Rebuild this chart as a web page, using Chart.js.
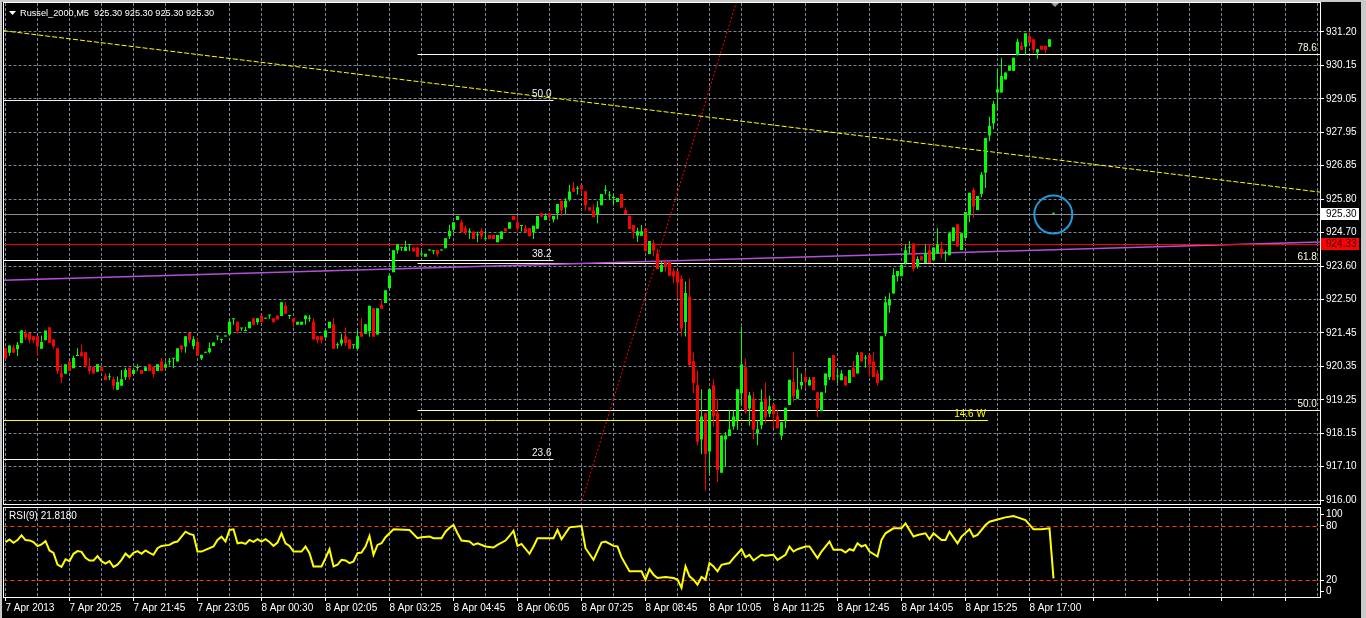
<!DOCTYPE html>
<html>
<head>
<meta charset="utf-8">
<title>Russel_2000,M5</title>
<script src="https://cdn.jsdelivr.net/npm/chart.js@4.4.1/dist/chart.umd.min.js"></script>
<style>
  html, body { margin: 0; padding: 0; background: #000; }
  body { width: 1366px; height: 618px; position: relative; overflow: hidden; }
  canvas { position: absolute; left: 0; }
  #priceChart { top: 0; width: 1366px; height: 506px; }
  #rsiChart { top: 505px; width: 1366px; height: 113px; }
  .edge { position: absolute; background: #c8c8c8; }
</style>
</head>
<body>
<canvas id="priceChart" width="1366" height="506"></canvas>
<canvas id="rsiChart" width="1366" height="113"></canvas>
<div class="edge" style="left:0;top:0;width:2px;height:618px"></div>
<div class="edge" style="left:0;top:0;width:1366px;height:2px"></div>
<div class="edge" style="left:1361px;top:0;width:5px;height:618px"></div>
<script>
// ═══════════════════════════════════════
//  RUSSEL_2000 M5 + RSI(9)
// ═══════════════════════════════════════

const symbolTitle = 'Russel_2000,M5  925.30 925.30 925.30 925.30';
const rsiTitle = 'RSI(9) 21.8180';

// one row per M5 bar : open, high, low, close
const ohlc = [
  [920.93,920.95,920.58,920.60],[920.78,921.03,920.69,921.02],[920.95,921.04,920.78,920.78],[920.90,921.13,920.68,921.04],[921.10,921.52,921.09,921.51],
  [921.42,921.52,921.20,921.28],[921.42,921.42,921.09,921.20],[921.32,921.32,921.09,921.19],[921.32,921.32,920.68,920.99],[920.91,921.34,920.91,921.13],
  [921.19,921.51,921.19,921.51],[921.61,921.61,921.10,921.10],[921.21,921.21,920.91,920.99],[920.93,920.93,920.09,920.19],[920.12,920.41,919.79,919.99],
  [920.10,920.41,920.10,920.41],[920.50,920.50,920.19,920.19],[920.28,920.69,920.28,920.61],[920.68,920.93,920.68,920.71],[920.80,921.04,920.67,920.67],
  [920.80,920.80,920.30,920.37],[920.32,920.61,920.09,920.19],[920.32,920.32,920.11,920.11],[920.17,920.41,920.17,920.41],[920.32,920.32,920.19,920.19],
  [920.02,920.12,919.90,919.90],[919.99,920.12,919.90,920.02],[919.92,920.01,919.58,919.71],[919.58,920.01,919.58,919.83],[919.71,920.22,919.71,919.92],
  [919.99,920.30,919.90,920.22],[920.30,920.30,919.90,919.99],[920.09,920.30,920.09,920.22],[920.29,920.41,920.19,920.31],[920.22,920.22,920.10,920.10],
  [920.19,920.31,920.19,920.31],[920.41,920.41,920.19,920.19],[920.32,920.32,919.99,920.09],[920.19,920.41,920.19,920.41],[920.50,920.61,920.19,920.19],
  [920.30,920.50,920.28,920.41],[920.49,920.61,920.37,920.51],[920.59,920.61,920.28,920.61],[920.50,920.93,920.50,920.93],[921.02,921.02,920.78,920.89],
  [920.99,921.32,920.78,921.32],[921.42,921.42,921.09,921.20],[921.00,921.32,920.90,921.22],[921.13,921.25,920.69,920.69],[920.60,920.72,920.55,920.72],
  [920.78,920.80,920.78,920.79],[920.80,921.12,920.76,920.93],[921.00,921.12,921.00,921.12],[921.31,921.33,921.19,921.32],[921.20,921.22,921.10,921.21],
  [921.31,921.33,921.31,921.32],[921.38,921.84,921.38,921.79],[921.87,921.89,921.69,921.88],[921.79,921.79,921.40,921.49],[921.57,921.59,921.49,921.58],
  [921.49,921.62,921.49,921.50],[921.58,921.79,921.58,921.79],[921.90,921.90,921.69,921.69],[921.77,921.90,921.69,921.90],[921.99,921.99,921.77,921.77],
  [921.89,921.91,921.89,921.90],[921.99,922.01,921.89,922.00],[921.90,921.90,921.77,921.77],[921.99,921.99,921.86,921.86],[921.98,922.42,921.98,922.42],
  [922.31,922.42,922.05,922.05],[921.98,922.00,921.88,921.99],[921.90,921.90,921.60,921.77],[921.69,921.79,921.69,921.79],[921.69,921.79,921.69,921.79],
  [921.88,921.99,921.69,921.99],[921.89,922.01,921.79,921.90],[921.79,921.90,921.21,921.21],[921.32,921.32,921.08,921.19],[921.32,921.32,921.08,921.19],
  [921.28,921.51,921.28,921.51],[921.58,921.79,921.58,921.79],[921.71,921.90,920.91,920.91],[921.03,921.12,920.91,921.04],[921.08,921.40,921.00,921.21],
  [921.32,921.60,921.00,921.10],[921.21,921.21,920.91,920.91],[921.03,921.05,920.91,921.04],[920.91,921.51,920.91,921.32],[921.43,921.90,921.30,921.30],
  [921.40,921.71,921.40,921.71],[921.49,922.31,921.30,922.31],[922.23,922.23,921.30,921.30],[921.38,922.23,921.38,922.23],[922.34,922.51,922.21,922.21],
  [922.40,922.81,922.40,922.81],[922.88,923.31,922.88,923.29],[923.40,924.11,923.40,924.11],[924.11,924.31,924.01,924.31],[924.19,924.21,924.09,924.20],
  [924.09,924.42,924.09,924.22],[924.28,924.30,924.09,924.29],[924.20,924.20,924.07,924.07],[924.20,924.20,923.90,923.90],[923.97,924.09,923.90,923.98],
  [923.90,924.00,923.90,924.00],[924.10,924.12,924.10,924.11],[924.08,924.10,923.98,924.09],[924.11,924.11,923.90,923.98],[924.10,924.12,924.10,924.11],
  [924.18,924.50,924.18,924.50],[924.57,924.94,924.48,924.74],[924.78,925.02,924.70,925.02],[925.09,925.22,925.09,925.22],[925.02,925.11,924.70,924.70],
  [924.83,924.91,924.61,924.70],[924.71,924.83,924.48,924.72],[924.72,924.72,924.48,924.48],[924.60,924.72,924.37,924.61],[924.74,924.83,924.48,924.57],
  [924.47,924.74,924.47,924.48],[924.61,924.61,924.48,924.48],[924.61,924.61,924.48,924.48],[924.37,924.61,924.37,924.61],[924.48,924.72,924.48,924.72],
  [924.83,924.83,924.72,924.72],[924.81,925.02,924.81,925.02],[925.22,925.22,925.09,925.09],[925.02,925.22,924.72,924.81],[924.90,924.92,924.72,924.91],
  [924.83,924.94,924.70,924.70],[924.83,924.83,924.57,924.57],[924.70,924.91,924.48,924.91],[924.81,925.22,924.81,925.22],[925.31,925.31,925.20,925.20],
  [925.09,925.31,925.09,925.22],[925.31,925.31,925.09,925.20],[925.11,925.22,925.02,925.22],[925.31,925.61,925.11,925.61],[925.72,925.72,925.22,925.41],
  [925.50,925.80,925.30,925.72],[925.76,926.24,925.70,926.02],[926.14,926.32,926.01,926.01],[926.11,926.20,925.92,926.12],[926.22,926.22,925.96,926.09],
  [926.03,926.03,925.40,925.57],[925.51,925.51,925.40,925.40],[925.40,925.60,925.18,925.18],[925.29,925.70,924.99,925.51],[925.57,925.94,925.57,925.94],
  [926.04,926.22,925.92,926.05],[925.89,926.03,925.75,925.90],[925.81,925.94,925.57,925.82],[925.68,925.81,925.68,925.81],[925.94,925.94,925.49,925.49],
  [925.42,925.51,925.29,925.29],[925.23,925.23,924.80,924.80],[924.93,924.93,924.49,924.71],[924.58,924.84,924.38,924.73],[924.58,924.93,924.58,924.73],
  [924.82,924.82,924.08,924.08],[923.99,924.41,923.99,924.41],[924.34,924.45,923.91,924.10],[924.01,924.16,923.50,923.50],[923.41,923.76,923.41,923.63],
  [923.73,923.82,923.41,923.58],[923.73,923.73,923.28,923.28],[923.43,923.52,923.04,923.26],[923.43,923.43,922.56,923.06],[923.19,923.30,921.31,921.57],
  [921.78,923.10,921.31,922.72],[922.61,923.19,920.38,920.38],[920.51,920.79,919.47,919.79],[919.73,920.21,917.78,917.89],[917.97,919.60,917.50,918.71],
  [918.82,918.82,916.31,917.50],[917.58,919.60,916.87,919.60],[919.73,919.92,918.38,918.71],[918.82,919.30,916.59,916.98],[916.89,918.10,916.89,918.10],
  [917.97,918.21,917.09,918.10],[918.08,918.91,918.08,918.30],[918.39,918.91,918.28,918.71],[918.60,919.60,918.28,919.60],[919.47,921.63,919.05,920.40],
  [920.31,920.59,918.80,918.88],[918.97,919.51,918.41,919.40],[919.30,919.51,917.97,918.28],[918.17,918.60,917.78,918.30],[918.43,919.60,918.30,919.19],
  [919.30,919.82,918.49,918.69],[918.80,919.39,918.70,919.05],[919.11,919.11,918.33,918.79],[918.72,918.92,918.33,918.33],[918.10,918.53,917.95,918.53],
  [918.59,919.00,918.33,919.00],[919.09,919.91,919.09,919.91],[919.83,920.80,919.20,919.37],[919.29,920.30,919.29,919.59],[919.72,920.11,919.59,919.83],
  [920.00,920.19,919.63,919.83],[919.72,920.00,919.72,919.91],[920.00,920.00,919.57,919.57],[919.50,919.50,918.70,918.98],[918.89,919.50,918.89,919.50],
  [919.72,920.11,919.48,920.11],[920.00,920.61,919.90,920.61],[920.71,920.71,919.89,919.89],[920.01,920.30,919.80,920.02],[919.89,920.22,919.89,920.11],
  [920.02,920.02,919.72,919.72],[919.80,920.22,919.80,920.22],[920.30,920.52,920.00,920.00],[920.11,920.80,920.11,920.71],[920.80,920.80,920.50,920.50],
  [920.60,920.71,920.30,920.61],[920.71,920.71,920.00,920.39],[920.50,920.80,920.00,920.00],[920.11,920.22,919.72,919.80],[919.89,921.32,919.89,921.32],
  [921.41,922.62,921.32,922.42],[922.32,922.72,922.08,922.53],[922.71,923.53,922.71,923.31],[923.27,923.44,923.10,923.44],[923.27,923.64,923.27,923.64],
  [923.70,924.31,923.64,924.11],[924.19,924.41,924.00,924.20],[924.33,924.33,923.42,923.51],[923.59,923.92,923.51,923.83],[923.92,923.92,923.79,923.79],
  [923.70,924.31,923.70,924.01],[924.11,924.31,923.70,923.70],[923.79,924.20,923.79,924.20],[924.01,924.83,924.01,924.31],[924.17,924.39,923.84,923.98],
  [924.02,924.10,923.75,924.03],[923.95,924.72,923.95,924.66],[924.40,924.86,924.40,924.85],[924.96,924.96,924.23,924.23],[924.12,924.66,924.12,924.66],
  [924.51,925.35,924.51,925.35],[925.25,925.98,925.03,925.98],[926.07,926.15,925.17,925.53],[925.42,925.87,925.42,925.87],[925.94,926.65,925.83,926.57],
  [926.63,927.76,926.13,927.76],[927.84,928.45,927.65,928.15],[928.23,928.97,928.04,928.86],[929.23,929.97,928.65,929.34],[929.23,930.36,929.23,929.77],
  [929.66,929.88,929.66,929.88],[929.94,930.10,929.94,930.10],[929.94,930.36,929.94,930.36],[930.44,930.98,930.44,930.88],[930.75,930.88,930.62,930.62],
  [930.72,931.16,930.46,931.16],[931.07,931.18,930.85,930.85],[930.96,930.96,930.53,930.62],[930.53,930.64,930.33,930.64],[930.75,930.75,930.62,930.62],
  [930.75,930.75,930.51,930.62],[930.72,930.96,930.72,930.96],[925.30,925.30,925.30,925.30]
];

// RSI(9) read at the bars where the line turns : [bar, value]
const rsiPoints = [
  [0,62.1],[1,65.1],[2,61.4],[3,64.4],[4,69.6],[5,64.4],[6,64.0],[7,62.1],[8,57.6],[9,59.5],[10,63.2],[11,52.8],[12,50.2],
  [13,37.1],[14,34.5],[15,43.1],[16,40.9],[17,49.1],[18,52.1],[19,51.3],[20,44.6],[21,41.6],[22,41.6],[23,46.5],[24,40.9],
  [25,38.3],[26,40.9],[27,34.5],[28,37.1],[29,42.4],[30,49.4],[31,45.3],[32,50.2],[33,52.1],[34,49.1],[35,52.8],[36,50.2],
  [37,48.0],[38,55.3],[39,57.9],[41,59.0],[42,61.6],[43,62.7],[44,68.2],[45,73.7],[46,71.2],[47,70.0],[48,51.6],[49,51.6],
  [50,53.5],[52,57.2],[53,64.5],[54,68.2],[55,62.7],[56,75.6],[57,76.3],[58,60.8],[59,61.6],[60,60.1],[61,64.5],[62,62.3],
  [63,65.3],[64,62.7],[65,65.3],[66,62.3],[67,57.9],[68,61.6],[69,71.9],[70,60.8],[71,57.9],[72,51.6],[74,51.6],[75,57.2],
  [76,49.8],[77,35.1],[79,35.1],[80,44.3],[81,54.2],[82,35.1],[83,36.9],[84,42.4],[85,41.7],[86,38.8],[87,40.6],[88,49.8],
  [89,50.5],[90,57.2],[91,68.9],[92,48.0],[93,59.0],[94,60.8],[95,67.5],[97,76.3],[101,75.6],[103,66.4],[104,67.5],[106,68.2],
  [107,66.4],[109,66.4],[110,73.7],[111,78.1],[112,81.1],[113,71.9],[114,63.8],[116,62.7],[117,59.0],[118,60.8],[120,57.2],
  [122,56.1],[123,59.0],[125,63.8],[126,68.9],[127,74.8],[128,57.9],[129,60.1],[131,49.1],[132,57.2],[133,66.4],[137,66.4],
  [138,75.6],[139,65.3],[141,78.5],[144,80.0],[145,55.3],[147,42.4],[149,61.6],[150,62.7],[152,57.9],[153,57.2],[154,45.4],
  [156,29.6],[159,29.6],[160,20.4],[161,32.1],[162,25.9],[163,22.2],[165,23.3],[167,22.2],[168,20.4],[169,11.2],[170,35.1],
  [171,24.0],[172,20.4],[173,14.8],[174,23.3],[175,20.4],[176,38.8],[177,35.1],[178,29.6],[179,36.9],[181,38.8],[182,44.3],
  [184,54.2],[185,45.4],[186,48.0],[187,41.7],[189,48.0],[190,46.9],[192,48.0],[193,42.4],[195,48.0],[196,57.2],[197,51.6],
  [198,54.2],[200,57.2],[201,57.2],[203,44.3],[204,51.6],[206,62.7],[207,53.5],[209,53.5],[210,50.5],[211,54.2],[212,52.8],
  [213,60.8],[214,57.2],[215,59.0],[216,51.6],[218,46.1],[219,64.5],[220,71.9],[222,77.4],[224,77.4],[225,82.9],[227,68.2],
  [228,70.0],[230,71.9],[231,65.3],[232,71.9],[234,64.5],[235,64.5],[236,73.7],[238,60.8],[239,68.2],[241,76.3],[242,68.2],
  [243,70.0],[245,81.1],[246,84.8],[248,87.3],[250,89.6],[252,91.0],[253,89.6],[255,86.6],[257,76.3],[259,76.3],[261,77.4],
  [262,21.8]
];

// time axis, one label every 16 bars
const timeLabels = ['7 Apr 2013','7 Apr 20:25','7 Apr 21:45','7 Apr 23:05','8 Apr 00:30','8 Apr 02:05','8 Apr 03:25',
  '8 Apr 04:45','8 Apr 06:05','8 Apr 07:25','8 Apr 08:45','8 Apr 10:05','8 Apr 11:25','8 Apr 12:45','8 Apr 14:05',
  '8 Apr 15:25','8 Apr 17:00'];

// price axis : 15 even steps from 931.20 down to 916.00, labels as the terminal rounds them
const priceTickLabels = ['931.20','930.15','929.05','927.95','926.85','925.80','924.70','923.60',
  '922.50','921.45','920.35','919.25','918.15','917.10','916.00'];
const priceTop = 931.20, priceBottom = 916.00;

// rsi axis : terminal pulls the 100 / 0 labels inside the window
const rsiTickLabels = ['100', '80', '20', '0'];
const rsiTickSpots = [93.3, 80, 20, 7.4];
const rsiLevels = [80, 20];

// objects on the chart : [bar, price]
const bidPrice = 925.30, askPrice = 924.33;
const trendLine = [[-0.5, 931.24], [328.6, 926.00]];
const fibBaseLine = [[141.8, 915.0], [184.7, 933.0]];
const purpleLine = [[-0.5, 923.14], [328.6, 924.38]];
const fibLeftLevels = ['50.0', '38.2', '23.6'];
const fibLeftPrices = [928.99, 923.78, 917.33];
const fibLeftSpan = [-0.5, 137];
const fibRightLevels = ['78.6', '61.8', '50.0'];
const fibRightPrices = [930.49, 923.69, 918.91];
const fibRightSpan = [103, 328.6];
const wLine = [[-0.5, 918.59], [245.6, 918.59]];
const wLabel = '14.6 W';
const circleSpot = [261.95, 925.27];

const barsInView = [-0.5, 328.625];
const gridStep = 8, labelStep = 16;

const bullColor = '#00ff00', bearColor = '#ff0000';
const gridColor = '#778899';

Chart.defaults.font.family = "'Liberation Sans', Arial, sans-serif";
Chart.defaults.font.size = 10;
Chart.defaults.color = '#ffffff';

function gridBars() {
    const out = [];
    for (let k = 0; k <= barsInView[1]; k += gridStep) out.push(k);
    return out;
}
function seg(points) { return points.map(p => ({ x: p[0], y: p[1] })); }
function flat(span, price) { return [{ x: span[0], y: price }, { x: span[1], y: price }]; }
function lineSet(data, color, extra) {
    return Object.assign({ type: 'line', data, borderColor: color, borderWidth: 1, pointRadius: 0, fill: false, tension: 0, order: 3 }, extra || {});
}
function candleColor(ctx) {
    const r = ohlc[ctx.dataIndex];
    return r && r[3] >= r[0] ? bullColor : bearColor;
}
function crisp(v) { return Math.round(v) + 0.5; }

// keep horizontal 1px lines on whole pixel rows
const snapFlat = {
    id: 'snapFlat',
    afterDatasetsUpdate(chart) {
        chart.data.datasets.forEach((ds, i) => {
            const meta = chart.getDatasetMeta(i);
            if (meta.type === 'bar') return;
            const pts = meta.data;
            if (pts.length === 2 && Math.abs(pts[0].y - pts[1].y) < 0.01) {
                pts.forEach(p => { p.y = crisp(p.y); });
            }
        });
    }
};

// ───────── decorations drawn on top ─────────
const priceDecor = {
    id: 'priceDecor',
    afterDraw(chart) {
        const { ctx, chartArea: a, scales: { x, y } } = chart;
        ctx.save();
        ctx.strokeStyle = '#ffffff';
        ctx.lineWidth = 1;
        ctx.strokeRect(a.left, a.top - 0.5, a.right + 0.5 - a.left, a.bottom - a.top);

        ctx.font = Chart.defaults.font.size + 'px ' + Chart.defaults.font.family;
        ctx.textBaseline = 'bottom';
        ctx.textAlign = 'right';
        ctx.fillStyle = '#f0f0f0';
        fibLeftLevels.forEach((t, i) => ctx.fillText(t, x.getPixelForValue(fibLeftSpan[1]) - 2, crisp(y.getPixelForValue(fibLeftPrices[i])) - 1.5));
        ctx.fillStyle = '#fffbe0';
        fibRightLevels.forEach((t, i) => ctx.fillText(t, x.getPixelForValue(fibRightSpan[1]) - 3, crisp(y.getPixelForValue(fibRightPrices[i])) - 1.5));
        ctx.fillStyle = '#ffff00';
        ctx.fillText(wLabel, x.getPixelForValue(wLine[1][0]) - 2, crisp(y.getPixelForValue(wLine[1][1])) - 1.5);

        // symbol line
        ctx.fillStyle = '#ffffff';
        ctx.beginPath(); ctx.moveTo(9, 11); ctx.lineTo(16, 11); ctx.lineTo(12.5, 15); ctx.closePath(); ctx.fill();
        ctx.font = '9.2px ' + Chart.defaults.font.family;
        ctx.textAlign = 'left';
        ctx.textBaseline = 'middle';
        ctx.fillText(symbolTitle, 20, 13);

        // chart shift marker
        ctx.fillStyle = '#a0a0a0';
        ctx.beginPath(); ctx.moveTo(1051, 3); ctx.lineTo(1059, 3); ctx.lineTo(1055, 7); ctx.closePath(); ctx.fill();

        // bid / ask boxes on the price scale
        ctx.font = Chart.defaults.font.size + 'px ' + Chart.defaults.font.family;
        const boxes = [[bidPrice, '#ffffff', '#000000'], [askPrice, '#ff0000', '#2a0000']];
        boxes.forEach(b => {
            const py = crisp(y.getPixelForValue(b[0]));
            ctx.fillStyle = b[1];
            ctx.fillRect(a.right + 1, py - 6.5, 38, 12);
            ctx.fillStyle = b[2];
            ctx.fillText(b[0].toFixed(2), a.right + 6, py);
        });
        ctx.restore();
    }
};

const rsiDecor = {
    id: 'rsiDecor',
    afterDraw(chart) {
        const { ctx, chartArea: a } = chart;
        ctx.save();
        ctx.strokeStyle = '#ffffff';
        ctx.lineWidth = 1;
        ctx.strokeRect(a.left, a.top - 0.5, a.right + 0.5 - a.left, a.bottom - a.top);
        ctx.font = Chart.defaults.font.size + 'px ' + Chart.defaults.font.family;
        ctx.fillStyle = '#ffffff';
        ctx.textBaseline = 'middle';
        ctx.fillText(rsiTitle, 9, a.top + 8.5);
        ctx.restore();
    }
};

// ───────── price window ─────────
const priceTicks = priceTickLabels.map((_, i) => priceTop - i * (priceTop - priceBottom) / (priceTickLabels.length - 1));

new Chart(document.getElementById('priceChart'), {
    type: 'bar',
    data: {
        datasets: [
            { type: 'bar', data: ohlc.map((r, k) => ({ x: k, y: [r[0], r[3]] })), backgroundColor: candleColor,
              barThickness: 3, minBarLength: 1, grouped: false, inflateAmount: 0, order: 0 },
            { type: 'bar', data: ohlc.map((r, k) => ({ x: k, y: [r[2], r[1]] })), backgroundColor: candleColor,
              barThickness: 1, minBarLength: 1, grouped: false, inflateAmount: 0, order: 1 },
            { type: 'line', data: seg([circleSpot]), showLine: false, pointRadius: 19, pointBorderWidth: 2,
              pointBorderColor: '#1e9be0', pointBackgroundColor: 'rgba(0,0,0,0)', order: 2 },
            lineSet(flat(barsInView, bidPrice), '#8e8e8e'),
            lineSet(flat(barsInView, askPrice), '#ff0000'),
            lineSet(seg(purpleLine), '#b450d8', { borderWidth: 1.5 }),
            lineSet(seg(trendLine), '#ffff00', { borderDash: [5, 2] }),
            lineSet(seg(fibBaseLine), '#ff0000', { borderDash: [2, 2] }),
            ...fibLeftPrices.map(p => lineSet(flat(fibLeftSpan, p), '#f4f4f4')),
            ...fibRightPrices.map(p => lineSet(flat(fibRightSpan, p), '#fffbd0')),
            lineSet(seg(wLine), '#ffff00')
        ]
    },
    options: {
        responsive: false, animation: false, devicePixelRatio: 1, events: [],
        layout: { padding: { left: 3.5, right: 0, top: 3, bottom: 1 }, autoPadding: false },
        plugins: { legend: { display: false }, tooltip: { enabled: false } },
        scales: {
            x: {
                type: 'linear', min: barsInView[0], max: barsInView[1], offset: false,
                grid: { color: gridColor, drawTicks: false, offset: false },
                border: { display: false, dash: [3, 2] },
                ticks: { display: false },
                afterBuildTicks: s => { s.ticks = gridBars().map(v => ({ value: v })); },
                afterFit: s => { s.height = 0; s.paddingLeft = 0; s.paddingRight = 0; }
            },
            y: {
                type: 'linear', position: 'right', min: 915.84, max: 932.14,
                grid: { color: gridColor, tickColor: '#ffffff', tickLength: 4, tickBorderDash: [] },
                border: { display: false, dash: [3, 2] },
                ticks: { color: '#ffffff', padding: 2, autoSkip: false, callback: (v, i) => priceTickLabels[i] },
                afterBuildTicks: s => { s.ticks = priceTicks.map(v => ({ value: v })); },
                afterFit: s => { s.width = 46; s.paddingTop = 0; s.paddingBottom = 0; }
            }
        }
    },
    plugins: [snapFlat, priceDecor]
});

// ───────── RSI window ─────────
new Chart(document.getElementById('rsiChart'), {
    type: 'line',
    data: {
        datasets: [
            { data: seg(rsiPoints), borderColor: '#ffff00', borderWidth: 2, pointRadius: 0, tension: 0, fill: false, order: 0 },
            ...rsiLevels.map(l => ({ data: flat(barsInView, l), borderColor: '#ff3c00', borderWidth: 1, borderDash: [4, 3],
                pointRadius: 0, fill: false, order: 1 }))
        ]
    },
    options: {
        responsive: false, animation: false, devicePixelRatio: 1, events: [],
        layout: { padding: { left: 3.5, right: 0, top: 3, bottom: 0 }, autoPadding: false },
        plugins: { legend: { display: false }, tooltip: { enabled: false } },
        scales: {
            x: {
                type: 'linear', min: barsInView[0], max: barsInView[1], offset: false,
                grid: { color: gridColor, offset: false, tickLength: 3, tickBorderDash: [],
                        tickColor: c => (c.tick && c.tick.value % labelStep === 0) ? '#ffffff' : 'rgba(0,0,0,0)' },
                border: { display: false, dash: [3, 2] },
                ticks: { color: '#ffffff', align: 'start', padding: 1, autoSkip: false, maxRotation: 0,
                         callback: v => v % labelStep === 0 ? (timeLabels[v / labelStep] || '') : '' },
                afterBuildTicks: s => { s.ticks = gridBars().map(v => ({ value: v })); },
                afterFit: s => { s.height = 20; s.paddingLeft = 0; s.paddingRight = 0; }
            },
            y: {
                type: 'linear', position: 'right', min: 0, max: 100,
                grid: { drawOnChartArea: false, tickColor: '#ffffff', tickLength: 4, tickBorderDash: [] },
                border: { display: false },
                ticks: { color: '#ffffff', padding: 2, autoSkip: false, callback: (v, i) => rsiTickLabels[i] },
                afterBuildTicks: s => { s.ticks = rsiTickSpots.map(v => ({ value: v })); },
                afterFit: s => { s.width = 46; s.paddingTop = 0; s.paddingBottom = 0; }
            }
        }
    },
    plugins: [snapFlat, rsiDecor]
});
</script>
</body>
</html>
